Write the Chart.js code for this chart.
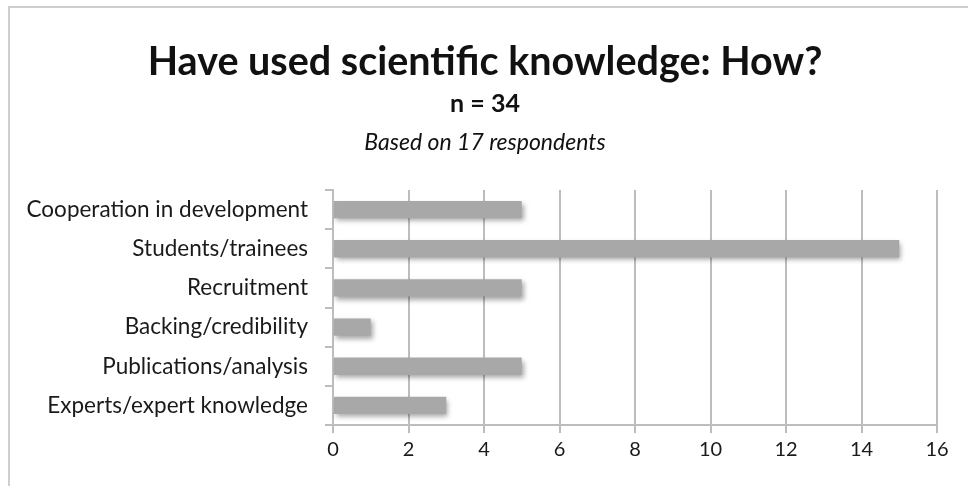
<!doctype html>
<html lang="en">
<head>
<meta charset="utf-8">
<script src="https://cdn.jsdelivr.net/npm/chart.js"></script>
<style>
	html, body { margin: 0; padding: 0; background: #fff; }
	.wrap { position: relative; width: 968px; height: 486px; }
	.frame { position: absolute; left: 8px; top: 6px; right: 0; bottom: 0;
		border-left: 2px solid #cfcfcf; border-top: 2px solid #cfcfcf; pointer-events: none; }
	#how-chart { position: absolute; left: 0; top: 0; }
</style>
</head>
<body>
<div class="wrap">
	<canvas id="how-chart" width="968" height="486"></canvas>
	<div class="frame"></div>
</div>
<script>
	/*--------data---------*/
	var categories = [
		'Cooperation in development',
		'Students/trainees',
		'Recruitment',
		'Backing/credibility',
		'Publications/analysis',
		'Experts/expert knowledge'
	];
	var counts = [5, 15, 5, 1, 5, 3];
	var xTicks = [0, 2, 4, 6, 8, 10, 12, 14, 16];

	var titleText = 'Have used scientific knowledge: How?';
	var nText = 'n = 34';
	var noteText = 'Based on 17 respondents';

	var FONT = 'Lato, "Open Sans", sans-serif';

	// gray bar gradient, lighter on top
	function barFill(ctx) {
		var el = ctx.element;
		var c = ctx.chart.ctx;
		if (!el || !el.height) return '#a8a8a8';
		var top = el.y - el.height / 2;
		var g = c.createLinearGradient(0, top, 0, top + el.height);
		g.addColorStop(0, '#d2d2d2');
		g.addColorStop(0.3, '#bababa');
		g.addColorStop(0.7, '#a0a0a0');
		g.addColorStop(1, '#8a8a8a');
		return g;
	}

	// headings drawn above the plot
	var headings = {
		id: 'headings',
		afterDraw: function(chart) {
			var c = chart.ctx;
			var cx = chart.width / 2 + 1;
			c.save();
			c.fillStyle = '#111';
			c.textAlign = 'center';
			c.textBaseline = 'middle';
			c.font = 'bold 39.5px ' + FONT;
			c.fillText(titleText, cx, 62);
			c.font = 'bold 25px ' + FONT;
			c.fillText(nText, cx, 104);
			c.font = 'italic 23px ' + FONT;
			c.fillText(noteText, cx, 143);
			c.restore();
		}
	};

	// soft shadow under the bars
	var barShadow = {
		id: 'barShadow',
		beforeDatasetsDraw: function(chart) {
			var c = chart.ctx;
			c.save();
			c.shadowColor = 'rgba(0,0,0,0.35)';
			c.shadowBlur = 5;
			c.shadowOffsetX = 2;
			c.shadowOffsetY = 3;
		},
		afterDatasetsDraw: function(chart) {
			chart.ctx.restore();
		}
	};

	new Chart(document.getElementById('how-chart'), {
		type: 'bar',
		data: {
			labels: categories,
			datasets: [{
				data: counts,
				backgroundColor: barFill,
				borderWidth: 0,
				barPercentage: 0.9,
				categoryPercentage: 0.49
			}]
		},
		options: {
			indexAxis: 'y',
			responsive: false,
			animation: false,
			layout: { padding: { top: 190, right: 31, bottom: 0, left: 0 } },
			plugins: {
				legend: { display: false },
				tooltip: { enabled: false }
			},
			scales: {
				x: {
					min: 0,
					max: 16,
					afterBuildTicks: function(s) {
						s.ticks = xTicks.map(function(v) { return { value: v }; });
					},
					afterFit: function(s) { s.height = 61; },
					grid: { color: '#bdbdbd', lineWidth: 2, tickLength: 8 },
					border: { color: '#bdbdbd', width: 2 },
					ticks: {
						color: '#1a1a1a',
						padding: 5,
						font: { family: FONT, size: 20 }
					}
				},
				y: {
					afterFit: function(s) { s.width = 333; },
					grid: { drawOnChartArea: false, color: '#bdbdbd', lineWidth: 2, tickLength: 8, offset: true },
					border: { color: '#bdbdbd', width: 2 },
					ticks: {
						color: '#1a1a1a',
						padding: 17,
						font: { family: FONT, size: 22.5 }
					}
				}
			}
		},
		plugins: [barShadow, headings]
	});
</script>
</body>
</html>
